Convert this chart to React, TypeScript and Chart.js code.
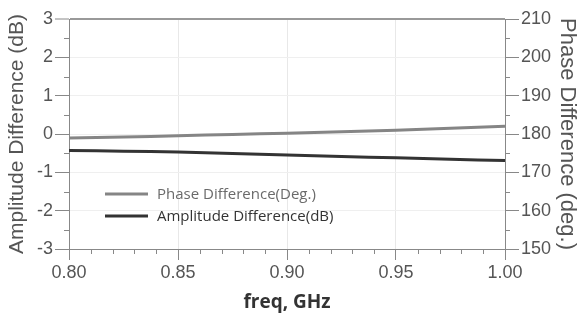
import React, { useEffect, useRef } from "react";
import { Chart, registerables } from "chart.js";

Chart.register(...registerables);

const freq = [0.8, 0.825, 0.85, 0.875, 0.9, 0.925, 0.95, 0.975, 1.0];
const phaseDeg = [178.95, 179.2, 179.55, 179.9, 180.2, 180.6, 181.0, 181.5, 182.0];
const amplitudeDb = [-0.43, -0.45, -0.47, -0.51, -0.55, -0.59, -0.62, -0.66, -0.69];
const phaseLabel = "Phase Difference(Deg.)";
const ampLabel = "Amplitude Difference(dB)";
const xTitle = "freq, GHz";
const yLeftTitle = "Amplitude Difference (dB)";
const yRightTitle = "Phase Difference (deg.)";

const tickFont = { family: "'Liberation Sans', Arial, sans-serif", size: 18 };
const tickColor = "#555";

const minorTicks = {
  id: "minorTicks",
  afterDraw(chart: any) {
    const ctx = chart.ctx;
    const { x, y, y1 } = chart.scales;
    ctx.save();
    ctx.strokeStyle = "#888";
    ctx.lineWidth = 1;
    ctx.beginPath();
    for (let i = 0; i <= 20; i++) {
      if (i % 5 === 0) continue;
      const px = Math.round(x.getPixelForValue(0.8 + i * 0.01)) + 0.5;
      ctx.moveTo(px, x.top);
      ctx.lineTo(px, x.top + 5);
    }
    for (let v = -2.5; v <= 2.5; v += 1) {
      const py = Math.round(y.getPixelForValue(v)) + 0.5;
      ctx.moveTo(y.right - 5, py);
      ctx.lineTo(y.right, py);
    }
    for (let v = 155; v <= 205; v += 10) {
      const py = Math.round(y1.getPixelForValue(v)) + 0.5;
      ctx.moveTo(y1.left, py);
      ctx.lineTo(y1.left + 5, py);
    }
    ctx.stroke();
    ctx.restore();
  },
};

const innerLegend = {
  id: "innerLegend",
  afterDatasetsDraw(chart: any) {
    const ctx = chart.ctx;
    const items = [
      { ds: chart.data.datasets[0], y: 194, color: "#6a6a6a" },
      { ds: chart.data.datasets[1], y: 216, color: "#333" },
    ];
    ctx.save();
    ctx.font = "15px 'Open Sans', sans-serif";
    ctx.textBaseline = "middle";
    for (const it of items) {
      ctx.strokeStyle = it.ds.borderColor;
      ctx.lineWidth = it.ds.borderWidth;
      ctx.beginPath();
      ctx.moveTo(105, it.y);
      ctx.lineTo(148, it.y);
      ctx.stroke();
      ctx.fillStyle = it.color;
      ctx.fillText(it.ds.label, 157, it.y + 1);
    }
    ctx.restore();
  },
};

export default function App() {
  const ref = useRef<HTMLCanvasElement>(null);
  useEffect(() => {
    if (!ref.current) return;
    const chart = new Chart(ref.current, {
      type: "line",
      data: {
        datasets: [
          {
            label: phaseLabel,
            data: freq.map((f, i) => ({ x: f, y: phaseDeg[i] })),
            yAxisID: "y1",
            borderColor: "#858585",
            borderWidth: 3,
            pointRadius: 0,
            tension: 0.3,
          },
          {
            label: ampLabel,
            data: freq.map((f, i) => ({ x: f, y: amplitudeDb[i] })),
            yAxisID: "y",
            borderColor: "#333",
            borderWidth: 3,
            pointRadius: 0,
            tension: 0.3,
          },
        ],
      },
      options: {
        animation: false,
        responsive: false,
        layout: { padding: { top: 19, left: 0, right: 0, bottom: 0 } },
        plugins: { legend: { display: false }, tooltip: { enabled: false } },
        scales: {
          x: {
            type: "linear",
            min: 0.8,
            max: 1.0,
            ticks: {
              stepSize: 0.05,
              font: tickFont,
              color: tickColor,
              padding: 2,
              maxRotation: 0,
              callback: (v: any) => Number(v).toFixed(2),
            },
            grid: {
              color: (c: any) => (c.index === 0 || c.index === 4 ? "rgba(0,0,0,0)" : "#e8e8e8"),
              tickColor: "#888",
              tickLength: 11,
            },
            border: { color: "#888", width: 1 },
            title: {
              display: true,
              text: xTitle,
              color: "#333",
              font: { family: "'Open Sans', sans-serif", size: 19, weight: "bold" },
              padding: { top: 0, bottom: 6 },
            },
            afterFit: (s: any) => {
              s.height = 71;
            },
          },
          y: {
            position: "left",
            min: -3,
            max: 3,
            ticks: { stepSize: 1, font: tickFont, color: tickColor, padding: 2 },
            grid: {
              color: (c: any) => (c.tick && c.tick.value === 3 ? "#999" : c.tick && c.tick.value === -3 ? "rgba(0,0,0,0)" : "#efefef"),
              lineWidth: (c: any) => (c.tick && c.tick.value === 3 ? 2 : 1),
              tickColor: "#888",
              tickWidth: 1,
              tickLength: 14,
            },
            border: { color: "#888", width: 1 },
            title: {
              display: true,
              text: yLeftTitle,
              color: "#555",
              font: { family: "'Liberation Sans', Arial, sans-serif", size: 21 },
              padding: { top: 5, bottom: 0 },
            },
            afterFit: (s: any) => {
              s.width = 69;
            },
          },
          y1: {
            position: "right",
            min: 150,
            max: 210,
            ticks: { stepSize: 10, font: tickFont, color: tickColor, padding: 2 },
            grid: { drawOnChartArea: false, tickColor: "#888", tickLength: 14 },
            border: { color: "#888", width: 1 },
            title: {
              display: true,
              text: yRightTitle,
              color: "#555",
              font: { family: "'Liberation Sans', Arial, sans-serif", size: 22 },
              padding: { top: 0, bottom: 0 },
            },
            afterFit: (s: any) => {
              s.width = 75;
            },
          },
        },
      },
      plugins: [minorTicks, innerLegend],
    });
    return () => chart.destroy();
  }, []);
  return (
    <div style={{ position: "fixed", left: 0, top: 0, width: 580, height: 320, background: "#fff" }}>
      <canvas ref={ref} width={580} height={320} />
    </div>
  );
}
